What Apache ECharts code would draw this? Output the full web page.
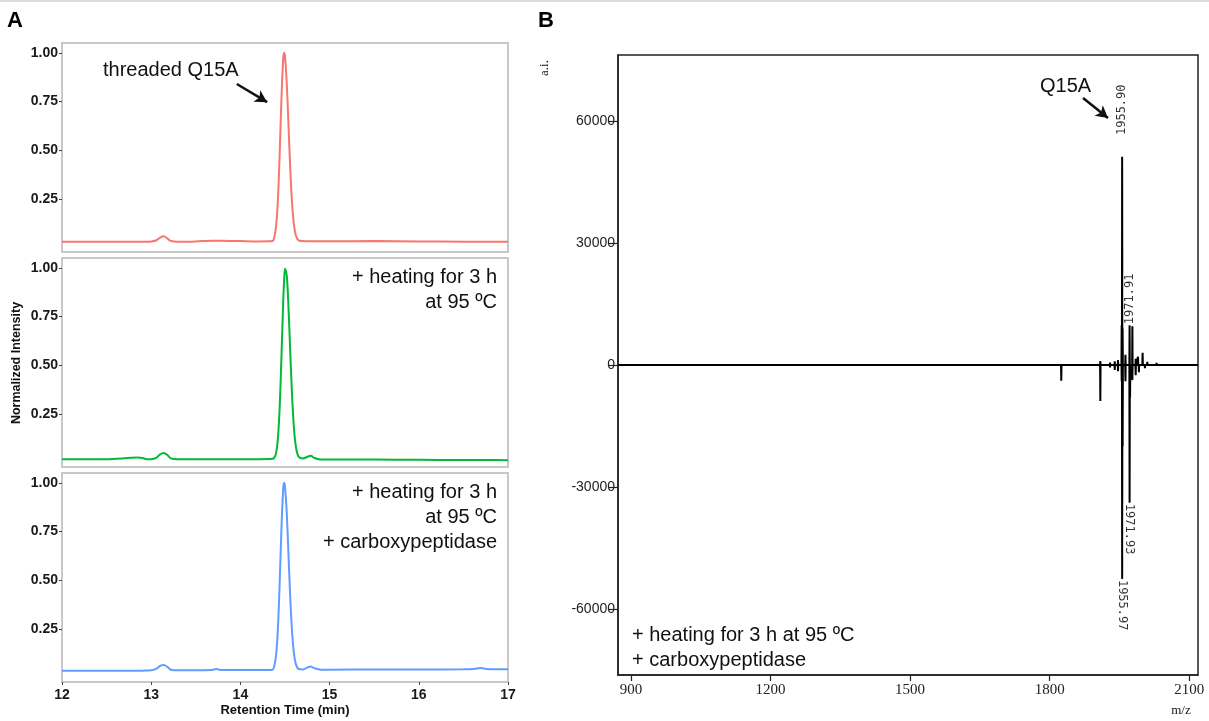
<!DOCTYPE html>
<html>
<head>
<meta charset="utf-8">
<script src="https://cdn.jsdelivr.net/npm/echarts@6/dist/echarts.min.js"></script>
<style>
  html, body { margin: 0; padding: 0; background: #fff; }
  #chart { width: 1209px; height: 721px; }
</style>
</head>
<body>
<div id="chart"></div>
<script>
// ---- panel A : HPLC traces (retention time in min, normalized intensity)
const rtMin = [12.0, 12.5, 12.85, 12.9, 12.95, 13.0, 13.06, 13.1, 13.14, 13.18, 13.22, 13.3, 13.5, 13.68, 13.73, 13.78,
  14.0, 14.2, 14.36, 14.38, 14.40, 14.42, 14.44, 14.46, 14.48, 14.49, 14.50, 14.52, 14.54, 14.56, 14.58, 14.60, 14.62,
  14.65, 14.70, 14.76, 14.79, 14.83, 14.9, 15.0, 15.5, 16.0, 16.5, 16.64, 16.7, 16.76, 17.0]
const threadedTrace = [0.032, 0.032, 0.032, 0.033, 0.033, 0.034, 0.040, 0.054, 0.060, 0.050, 0.036, 0.032, 0.034, 0.038, 0.038, 0.038,
  0.036, 0.034, 0.036, 0.056, 0.111, 0.243, 0.476, 0.763, 0.970, 1.0, 0.981, 0.841, 0.620, 0.396, 0.225, 0.120, 0.067,
  0.040, 0.036, 0.035, 0.035, 0.035, 0.035, 0.035, 0.036, 0.034, 0.033, 0.033, 0.033, 0.033, 0.032]
const heatedTrace = [0.02, 0.02, 0.028, 0.026, 0.02, 0.02, 0.028, 0.045, 0.052, 0.042, 0.024, 0.02, 0.02, 0.02, 0.02, 0.02,
  0.02, 0.02, 0.022, 0.028, 0.051, 0.123, 0.282, 0.54, 0.827, 0.933, 0.995, 0.96, 0.787, 0.555, 0.339, 0.182, 0.09,
  0.035, 0.024, 0.034, 0.038, 0.026, 0.018, 0.018, 0.018, 0.017, 0.016, 0.016, 0.016, 0.016, 0.015]
const digestedTrace = [0.037, 0.038, 0.038, 0.038, 0.039, 0.04, 0.048, 0.062, 0.067, 0.058, 0.043, 0.04, 0.04, 0.042, 0.046, 0.042,
  0.041, 0.041, 0.043, 0.063, 0.118, 0.248, 0.48, 0.765, 0.97, 1.0, 0.981, 0.842, 0.623, 0.401, 0.231, 0.126, 0.074,
  0.047, 0.044, 0.056, 0.059, 0.05, 0.043, 0.043, 0.044, 0.044, 0.045, 0.048, 0.052, 0.047, 0.045]
const intensityTicks = [0.25, 0.5, 0.75, 1.0]

// ---- panel B : MALDI spectra (upper = heated, lower = heated + carboxypeptidase)
const upperMz = [1780, 1825, 1860, 1885, 1909, 1930, 1940, 1947, 1954.9, 1955.9, 1956.9, 1963, 1971.91, 1977.9, 1985, 1990, 1999.9, 2010, 2030, 2060]
const upperInt = [400, 300, 300, 300, 1000, 600, 900, 1200, 9800, 51200, 9000, 2500, 9800, 9500, 1500, 2000, 3000, 800, 500, 300]
const lowerMz = [1825, 1860, 1909, 1930, 1940, 1947, 1954.97, 1955.97, 1956.97, 1963, 1971.93, 1972.93, 1977.9, 1985, 1992, 2005, 2030]
const lowerInt = [-3900, -300, -8850, -600, -1200, -1500, -4000, -52600, -20000, -4000, -33900, -8000, -3700, -2500, -1800, -800, -400]
const peakLabelMz = [1955.90, 1971.91, 1971.93, 1955.97]
const peakLabelAt = [56300, 9800, -33900, -52600]
const peakLabelText = ['1955.90', '1971.91', '1971.93', '1955.97']
const mzTicks = [900, 1200, 1500, 1800, 2100]
const aiTicks = [-60000, -30000, 0, 30000, 60000]

const MZ_MIN = 872, MZ_MAX = 2119

// stick spectrum along a zero baseline
function stickLine(mz, val) {
  const pts = [[MZ_MIN, 0]]
  mz.forEach((m, i) => {
    pts.push([m - 0.5, 0], [m, val[i]], [m + 0.5, 0])
  })
  pts.push([MZ_MAX, 0])
  return pts
}

const boldSans = '"Liberation Sans", Arial, sans-serif'

const hplcGrid = (top) => ({
  left: 62, top: top, width: 446, height: 209,
  show: true, borderColor: '#c8c8c8', borderWidth: 2, backgroundColor: 'transparent'
})

const hplcX = (i, showLabel) => ({
  type: 'value', gridIndex: i, min: 12, max: 17, interval: 1,
  axisLine: { show: false, onZero: false },
  splitLine: { show: false },
  axisTick: { show: showLabel, length: 3, lineStyle: { color: '#444' } },
  axisLabel: { show: showLabel, fontFamily: boldSans, fontWeight: 'bold', fontSize: 14, color: '#1a1a1a', margin: 6 }
})

const hplcY = (i) => ({
  type: 'value', gridIndex: i, min: -0.02, max: 1.05,
  axisLine: { show: false, onZero: false },
  splitLine: { show: false },
  axisTick: { show: true, length: 3, customValues: intensityTicks, lineStyle: { color: '#444' } },
  axisLabel: {
    customValues: intensityTicks, formatter: v => v.toFixed(2),
    fontFamily: boldSans, fontWeight: 'bold', fontSize: 14, color: '#1a1a1a', margin: 4
  }
})

const traceSeries = (i, data, color) => ({
  type: 'line', xAxisIndex: i, yAxisIndex: i,
  data: rtMin.map((t, k) => [t, data[k]]),
  smooth: 0.3, showSymbol: false, silent: true,
  lineStyle: { color: color, width: 2 }
})

const arrowLine = (from, to) => ({
  silent: true, animation: false,
  symbol: ['none', 'arrow'], symbolSize: [10, 12],
  lineStyle: { color: '#111', width: 2.5, type: 'solid' },
  label: { show: false },
  data: [[{ coord: from }, { coord: to }]]
})

const text = (str, x, y, opts) => Object.assign({
  type: 'text', x: x, y: y, silent: true,
  style: Object.assign({
    text: str, fill: '#111', font: '20px ' + boldSans,
    textAlign: 'left', textVerticalAlign: 'middle'
  }, opts && opts.style)
}, opts && opts.el)

const option = {
  animation: false,
  grid: [
    hplcGrid(43), hplcGrid(258), hplcGrid(473),
    { left: 618, top: 55, width: 580, height: 620, show: true, borderColor: '#222', borderWidth: 1.5, backgroundColor: 'transparent' }
  ],
  xAxis: [
    hplcX(0, false), hplcX(1, false), hplcX(2, true),
    {
      type: 'value', gridIndex: 3, min: MZ_MIN, max: MZ_MAX,
      axisLine: { show: true, onZero: false, lineStyle: { color: '#222', width: 1.5 } },
      splitLine: { show: false },
      axisTick: { show: true, length: 6, customValues: mzTicks, lineStyle: { color: '#222', width: 1.2 } },
      axisLabel: { customValues: mzTicks, formatter: v => String(v), fontFamily: '"Liberation Serif", serif', fontSize: 15, color: '#222', margin: 8 }
    }
  ],
  yAxis: [
    hplcY(0), hplcY(1), hplcY(2),
    {
      type: 'value', gridIndex: 3, min: -76230, max: 76230,
      axisLine: { show: true, onZero: false, lineStyle: { color: '#222', width: 1.5 } },
      splitLine: { show: false },
      axisTick: { show: true, length: 9, customValues: aiTicks, lineStyle: { color: '#222', width: 1.2 } },
      axisLabel: { customValues: aiTicks, formatter: v => String(v), fontFamily: boldSans, fontSize: 14, color: '#222', margin: 3 }
    }
  ],
  series: [
    Object.assign(traceSeries(0, threadedTrace, '#F8766D'), {
      markLine: arrowLine([13.96, 0.84], [14.30, 0.747])
    }),
    traceSeries(1, heatedTrace, '#00BA38'),
    traceSeries(2, digestedTrace, '#619CFF'),
    {
      type: 'line', xAxisIndex: 3, yAxisIndex: 3, data: stickLine(upperMz, upperInt),
      showSymbol: false, silent: true, lineStyle: { color: '#000', width: 2, join: 'bevel' },
      markLine: arrowLine([1871.8, 65656], [1925.5, 60738])
    },
    {
      type: 'line', xAxisIndex: 3, yAxisIndex: 3, data: stickLine(lowerMz, lowerInt),
      showSymbol: false, silent: true, lineStyle: { color: '#000', width: 2, join: 'bevel' }
    },
    {
      // rotated peak annotations
      type: 'scatter', xAxisIndex: 3, yAxisIndex: 3, symbolSize: 0, silent: true, z: 5,
      data: peakLabelMz.map((m, i) => ({
        value: [m, peakLabelAt[i]], name: peakLabelText[i],
        label: { rotate: peakLabelAt[i] > 0 ? 90 : -90 }
      })),
      label: {
        show: true, position: 'inside', align: 'left', verticalAlign: 'middle',
        formatter: p => p.name,
        fontFamily: '"DejaVu Sans Mono", monospace', fontSize: 12, color: '#000',
        backgroundColor: 'rgba(255,255,255,0.75)', padding: [0, 1, 0, 1]
      }
    }
  ],
  graphic: [
    { type: 'line', silent: true, shape: { x1: 0, y1: 1, x2: 1209, y2: 1 }, style: { stroke: '#dcdcdc', lineWidth: 2 } },
    text('A', 7, 21, { style: { font: 'bold 22px ' + boldSans, fill: '#000' } }),
    text('B', 538, 21, { style: { font: 'bold 22px ' + boldSans, fill: '#000' } }),
    text('threaded Q15A', 103, 70),
    text('+ heating for 3 h', 497, 277, { style: { textAlign: 'right' } }),
    text('at 95 ºC', 497, 302, { style: { textAlign: 'right' } }),
    text('+ heating for 3 h', 497, 492, { style: { textAlign: 'right' } }),
    text('at 95 ºC', 497, 517, { style: { textAlign: 'right' } }),
    text('+ carboxypeptidase', 497, 542, { style: { textAlign: 'right' } }),
    text('Normalized Intensity', 17, 363, {
      style: { font: 'bold 12.5px ' + boldSans, textAlign: 'center' },
      el: { rotation: Math.PI / 2 }
    }),
    text('Retention Time (min)', 285, 710, { style: { font: 'bold 13px ' + boldSans, textAlign: 'center' } }),
    text('a.i.', 545, 68, {
      style: { font: '13px "Liberation Serif", serif', textAlign: 'center' },
      el: { rotation: Math.PI / 2 }
    }),
    text('m/z', 1181, 711, { style: { font: '13px "Liberation Serif", serif', textAlign: 'center' } }),
    text('Q15A', 1040, 86),
    text('+ heating for 3 h at 95 ºC', 632, 635),
    text('+ carboxypeptidase', 632, 660)
  ]
}

const chart = echarts.init(document.getElementById('chart'))
chart.setOption(option)
</script>
</body>
</html>
